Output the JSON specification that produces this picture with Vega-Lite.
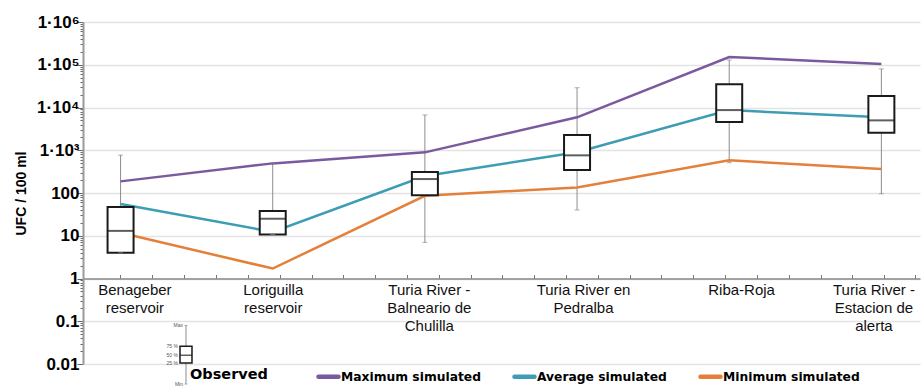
{
  "$schema": "https://vega.github.io/schema/vega-lite/v6.json",
  "width": 837,
  "height": 342,
  "autosize": "none",
  "padding": {"left": 83, "top": 22, "right": 2, "bottom": 22},
  "background": "white",
  "config": {"view": {"stroke": null}, "font": "Liberation Sans"},
  "resolve": {"axis": {"x": "independent"}},
  "datasets": {
    "obs": [
      {"idx": 0, "site": "Benageber reservoir", "min": 4, "q1": 4, "median": 13, "q3": 47, "max": 770},
      {"idx": 1, "site": "Loriguilla reservoir", "min": 10.7, "q1": 10.7, "median": 25, "q3": 38, "max": 510},
      {"idx": 2, "site": "Turia River - Balneario de Chulilla", "min": 7, "q1": 88, "median": 212, "q3": 309, "max": 6700},
      {"idx": 3, "site": "Turia River en Pedralba", "min": 40, "q1": 344, "median": 760, "q3": 2270, "max": 29000},
      {"idx": 4, "site": "Riba-Roja", "min": 510, "q1": 4600, "median": 8700, "q3": 34900, "max": 129000},
      {"idx": 5, "site": "Turia River - Estacion de alerta", "min": 96, "q1": 2570, "median": 5000, "q3": 18600, "max": 80000}
    ],
    "sim": [
      {"idx": 0, "series": "Maximum simulated", "v": 187},
      {"idx": 1, "series": "Maximum simulated", "v": 493},
      {"idx": 2, "series": "Maximum simulated", "v": 893},
      {"idx": 3, "series": "Maximum simulated", "v": 5900},
      {"idx": 4, "series": "Maximum simulated", "v": 152000},
      {"idx": 5, "series": "Maximum simulated", "v": 104000},
      {"idx": 0, "series": "Average simulated", "v": 55},
      {"idx": 1, "series": "Average simulated", "v": 12.3},
      {"idx": 2, "series": "Average simulated", "v": 249},
      {"idx": 3, "series": "Average simulated", "v": 900},
      {"idx": 4, "series": "Average simulated", "v": 8700},
      {"idx": 5, "series": "Average simulated", "v": 5900},
      {"idx": 0, "series": "Minimum simulated", "v": 11.7},
      {"idx": 1, "series": "Minimum simulated", "v": 1.71},
      {"idx": 2, "series": "Minimum simulated", "v": 86},
      {"idx": 3, "series": "Minimum simulated", "v": 135},
      {"idx": 4, "series": "Minimum simulated", "v": 580},
      {"idx": 5, "series": "Minimum simulated", "v": 363}
    ],
    "key": [
      {"idx": 0.43, "min": 0.0034, "q1": 0.0105, "median": 0.016, "q3": 0.026, "max": 0.08}
    ],
    "keylabels": [
      {"idx": 0.43, "v": 0.08, "label": "Max", "kind": "end"},
      {"idx": 0.43, "v": 0.026, "label": "75 %", "kind": "pct"},
      {"idx": 0.43, "v": 0.016, "label": "50 %", "kind": "pct"},
      {"idx": 0.43, "v": 0.0105, "label": "25 %", "kind": "pct"},
      {"idx": 0.43, "v": 0.0034, "label": "Min", "kind": "end"}
    ]
  },
  "layer": [
    {
      "data": {"name": "obs"},
      "mark": {"type": "rule", "color": "#8c8c8c", "strokeWidth": 1},
      "encoding": {
        "x": {
          "field": "idx", "type": "quantitative",
          "scale": {"domain": [-0.214, 5.221], "nice": false, "zero": false},
          "axis": {
            "title": null,
            "orient": "bottom",
            "offset": -85.5,
            "grid": false,
            "ticks": false,
            "domain": false,
            "values": [0.0909, 1, 2.026, 3.039, 4.078, 4.948],
            "labelExpr": "datum.value < 0.5 ? ['Benageber','reservoir'] : datum.value < 1.5 ? ['Loriguilla','reservoir'] : datum.value < 2.5 ? ['Turia River -','Balneario de','Chulilla'] : datum.value < 3.5 ? ['Turia River en','Pedralba'] : datum.value < 4.5 ? 'Riba-Roja' : ['Turia River -','Estacion de','alerta']",
            "labelOverlap": false,
            "labelFlush": false,
            "labelFont": "Liberation Sans",
            "labelFontSize": 15,
            "labelColor": "#111111",
            "labelLineHeight": 18,
            "labelBaseline": "top",
            "labelAlign": "center",
            "labelPadding": 4
          }
        },
        "y": {
          "field": "min", "type": "quantitative",
          "scale": {"type": "log", "domain": [0.01, 1000000], "nice": false},
          "axis": {
            "title": "UFC / 100 ml",
            "titleFont": "Liberation Sans",
            "titleFontSize": 14,
            "titleFontWeight": "bold",
            "titleColor": "black",
            "titlePadding": 8,
            "values": [0.01,0.02,0.03,0.04,0.05,0.06,0.07,0.08,0.09,0.1,0.2,0.3,0.4,0.5,0.6,0.7,0.8,0.9,1,2,3,4,5,6,7,8,9,10,20,30,40,50,60,70,80,90,100,200,300,400,500,600,700,800,900,1000,2000,3000,4000,5000,6000,7000,8000,9000,10000,20000,30000,40000,50000,60000,70000,80000,90000,100000,200000,300000,400000,500000,600000,700000,800000,900000,1000000],
            "labelExpr": "abs(log(datum.value)/LN10 - round(log(datum.value)/LN10)) > 0.01 ? '' : datum.value >= 999 ? '1·10' + (datum.value < 9999 ? '³' : datum.value < 99999 ? '⁴' : datum.value < 999999 ? '⁵' : '⁶') : datum.value >= 99 ? '100' : datum.value >= 9 ? '10' : datum.value >= 0.9 ? '1' : datum.value >= 0.09 ? '0.1' : '0.01'",
            "labelOverlap": false,
            "labelFont": "Liberation Sans",
            "labelFontSize": 17,
            "labelFontWeight": "bold",
            "labelColor": "black",
            "labelPadding": -2,
            "grid": true,
            "gridColor": "#e3e3e3",
            "gridWidth": 1.5,
            "gridOpacity": {"condition": {"test": "abs(log(datum.value)/LN10 - round(log(datum.value)/LN10)) < 0.01", "value": 1}, "value": 0},
            "tickSize": {"condition": {"test": "abs(log(datum.value)/LN10 - round(log(datum.value)/LN10)) < 0.01", "value": 6}, "value": 3},
            "tickColor": "#666666",
            "tickWidth": 1,
            "domainColor": "#9a9a9a",
            "domainWidth": 2
          }
        },
        "y2": {"field": "max"}
      }
    },
    {
      "data": {"name": "sim"},
      "mark": {"type": "line", "strokeWidth": 2.5},
      "encoding": {
        "x": {
          "field": "idx", "type": "quantitative",
          "axis": {
            "title": null,
            "orient": "bottom",
            "offset": -85.5,
            "grid": false,
            "labels": false,
            "values": [-0.002, 0.209, 0.418, 0.627, 0.836, 1.045, 1.255, 1.464, 1.673, 1.882, 2.091, 2.3, 2.509, 2.718, 2.927, 3.136, 3.345, 3.555, 3.764, 3.973, 4.182, 4.391, 4.6, 4.809, 5.018, 5.221],
            "tickSize": -4,
            "tickColor": "#777777",
            "tickWidth": 1,
            "domainColor": "#8a8a8a",
            "domainWidth": 1.5
          }
        },
        "y": {"field": "v", "type": "quantitative"},
        "color": {
          "field": "series", "type": "nominal",
          "scale": {"domain": ["Maximum simulated", "Average simulated", "Minimum simulated"], "range": ["#7a5a9e", "#3c9db4", "#e3803a"]},
          "legend": {
            "orient": "none",
            "legendX": 107,
            "legendY": 342,
            "direction": "horizontal",
            "title": "Observed",
            "titleOrient": "left",
            "titleFont": "DejaVu Sans",
            "titleFontSize": 14.5,
            "titleFontWeight": "bold",
            "titleColor": "black",
            "titlePadding": 48,
            "titleBaseline": "middle",
            "labelFont": "DejaVu Sans",
            "labelFontSize": 12.3,
            "labelFontWeight": "bold",
            "labelColor": "black",
            "labelOffset": 0,
            "labelLimit": 300,
            "symbolType": "stroke",
            "symbolSize": 400,
            "symbolStrokeWidth": 4.5,
            "columnPadding": 24,
            "padding": 0,
            "encode": {"symbols": {"update": {"strokeCap": {"value": "round"}}}}
          }
        },
        "order": {"field": "idx"}
      }
    },
    {
      "data": {"name": "obs"},
      "mark": {"type": "bar", "width": 26, "fill": "white", "stroke": "#1a1a1a", "strokeWidth": 2},
      "encoding": {
        "x": {"field": "idx", "type": "quantitative", "axis": null},
        "y": {"field": "q1", "type": "quantitative"},
        "y2": {"field": "q3"}
      }
    },
    {
      "data": {"name": "obs"},
      "mark": {"type": "tick", "orient": "horizontal", "size": 26, "thickness": 2, "color": "#1a1a1a"},
      "encoding": {
        "x": {"field": "idx", "type": "quantitative", "axis": null},
        "y": {"field": "median", "type": "quantitative"}
      }
    },
    {
      "data": {"name": "obs"},
      "mark": {"type": "tick", "orient": "horizontal", "size": 5, "thickness": 1, "color": "#8c8c8c"},
      "encoding": {
        "x": {"field": "idx", "type": "quantitative", "axis": null},
        "y": {"field": "max", "type": "quantitative"}
      }
    },
    {
      "data": {"name": "obs"},
      "mark": {"type": "tick", "orient": "horizontal", "size": 5, "thickness": 1, "color": "#8c8c8c"},
      "encoding": {
        "x": {"field": "idx", "type": "quantitative", "axis": null},
        "y": {"field": "min", "type": "quantitative"}
      }
    },
    {
      "data": {"name": "key"},
      "mark": {"type": "rule", "color": "#8c8c8c", "strokeWidth": 1},
      "encoding": {
        "x": {"field": "idx", "type": "quantitative", "axis": null},
        "y": {"field": "min", "type": "quantitative"},
        "y2": {"field": "max"}
      }
    },
    {
      "data": {"name": "key"},
      "mark": {"type": "bar", "width": 12, "fill": "white", "stroke": "#1a1a1a", "strokeWidth": 1.5},
      "encoding": {
        "x": {"field": "idx", "type": "quantitative", "axis": null},
        "y": {"field": "q1", "type": "quantitative"},
        "y2": {"field": "q3"}
      }
    },
    {
      "data": {"name": "key"},
      "mark": {"type": "tick", "orient": "horizontal", "size": 12, "thickness": 1.5, "color": "#1a1a1a"},
      "encoding": {
        "x": {"field": "idx", "type": "quantitative", "axis": null},
        "y": {"field": "median", "type": "quantitative"}
      }
    },
    {
      "data": {"name": "keylabels"},
      "transform": [{"filter": "datum.kind === 'end'"}],
      "mark": {"type": "tick", "orient": "horizontal", "size": 3, "thickness": 1, "color": "#8c8c8c"},
      "encoding": {
        "x": {"field": "idx", "type": "quantitative", "axis": null},
        "y": {"field": "v", "type": "quantitative"}
      }
    },
    {
      "data": {"name": "keylabels"},
      "transform": [{"filter": "datum.kind === 'end'"}],
      "mark": {"type": "text", "align": "right", "baseline": "middle", "dx": -3, "fontSize": 5, "font": "Liberation Sans", "color": "#555555"},
      "encoding": {
        "x": {"field": "idx", "type": "quantitative", "axis": null},
        "y": {"field": "v", "type": "quantitative"},
        "text": {"field": "label"}
      }
    },
    {
      "data": {"name": "keylabels"},
      "transform": [{"filter": "datum.kind === 'pct'"}],
      "mark": {"type": "text", "align": "right", "baseline": "middle", "dx": -8, "fontSize": 5, "font": "Liberation Sans", "color": "#555555"},
      "encoding": {
        "x": {"field": "idx", "type": "quantitative", "axis": null},
        "y": {"field": "v", "type": "quantitative"},
        "text": {"field": "label"}
      }
    }
  ]
}
